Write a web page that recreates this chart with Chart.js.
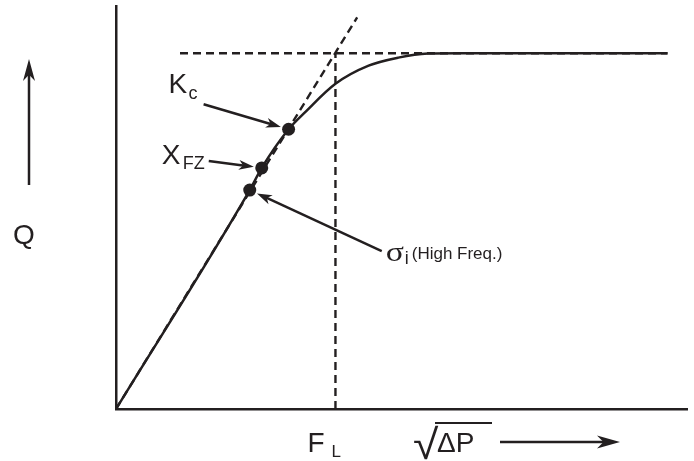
<!DOCTYPE html>
<html>
<head>
<meta charset="utf-8">
<script src="https://cdn.jsdelivr.net/npm/chart.js@4"></script>
<style>
  html, body { margin: 0; padding: 0; background: #ffffff; }
  #wrap { width: 694px; height: 461px; position: relative; }
</style>
</head>
<body>
<div id="wrap"><canvas id="c"></canvas></div>
<script>
// ---- data (arbitrary units) ----
const curveX = [0, 23.4, 25.5, 30.2, 33.2, 38.4, 44.2, 49.4, 54.6, 60.0, 96.5];
const curveY = [0, 54.4, 59.9, 69.5, 73.9, 80.8, 85.3, 87.3, 88.3, 88.4, 88.4];
const tangentX = [0, 42.2];
const tangentY = [0, 97.3];
const plateauX = [11.2, 96.5];
const plateauY = [88.4, 88.4];
const flX = [38.4, 38.4];
const flY = [0, 88.4];
const markerNames = ['σi', 'XFZ', 'Kc'];
const markerX = [23.4, 25.5, 30.2];
const markerY = [54.4, 59.9, 69.5];

const ink = '#231f20';
const xy = (xs, ys) => xs.map((x, i) => ({ x: x, y: ys[i] }));

function arrow(ctx, x1, y1, x2, y2, headLen, headW, lw) {
  const a = Math.atan2(y2 - y1, x2 - x1);
  const c = Math.cos(a), s = Math.sin(a);
  const bx = x2 - headLen * c, by = y2 - headLen * s;
  ctx.save();
  ctx.strokeStyle = ink; ctx.fillStyle = ink; ctx.lineWidth = lw; ctx.lineCap = 'butt';
  ctx.beginPath(); ctx.moveTo(x1, y1); ctx.lineTo(x2 - headLen * 0.6 * c, y2 - headLen * 0.6 * s); ctx.stroke();
  ctx.beginPath();
  ctx.moveTo(x2, y2);
  ctx.lineTo(bx - s * headW / 2, by + c * headW / 2);
  ctx.lineTo(x2 - headLen * 0.72 * c, y2 - headLen * 0.72 * s);
  ctx.lineTo(bx + s * headW / 2, by - c * headW / 2);
  ctx.closePath(); ctx.fill();
  ctx.restore();
}
function pointerTo(ctx, p, dx, dy, gap) {
  const len = Math.hypot(dx, dy);
  const ux = -dx / len, uy = -dy / len;
  arrow(ctx, p.x + dx, p.y + dy, p.x - ux * gap, p.y - uy * gap, 15, 10, 2.5);
}
function txt(ctx, s, x, y, font, align) {
  ctx.font = font; ctx.textAlign = align || 'left'; ctx.textBaseline = 'alphabetic';
  ctx.fillStyle = ink; ctx.fillText(s, x, y);
}

const annotations = {
  id: 'annotations',
  afterDatasetsDraw(chart) {
    const ctx = chart.ctx;
    const pts = chart.getDatasetMeta(4).data;
    const sig = pts[0], xfz = pts[1], kc = pts[2];
    const big = '28px "Liberation Sans", Arial, sans-serif';
    const sub = '18px "Liberation Sans", Arial, sans-serif';
    // Kc
    txt(ctx, 'K', kc.x - 120, kc.y - 36, big);
    txt(ctx, 'c', kc.x - 100, kc.y - 30, sub);
    pointerTo(ctx, kc, -85, -25, 8);
    // XFZ
    txt(ctx, 'X', xfz.x - 100, xfz.y - 4, big);
    txt(ctx, 'FZ', xfz.x - 79, xfz.y + 1, sub);
    pointerTo(ctx, xfz, -53, -7, 8);
    // sigma
    ctx.save();
    ctx.translate(sig.x + 136, sig.y + 71); ctx.scale(1.25, 1);
    txt(ctx, 'σ', 0, 0, '27px "Liberation Serif", serif');
    ctx.restore();
    txt(ctx, 'i', sig.x + 155, sig.y + 74, '18px "Liberation Sans", Arial, sans-serif');
    txt(ctx, '(High Freq.)', sig.x + 162, sig.y + 69, '17px "Liberation Sans", Arial, sans-serif');
    pointerTo(ctx, sig, 132, 61, 8);

    // axis labels
    txt(ctx, 'Q', 24, 244, big, 'center');
    arrow(ctx, 29, 185, 29, 59, 22, 12, 2.5);
    const fx = chart.scales.x.getPixelForValue(flX[0]);
    txt(ctx, 'F', fx - 28, 452, big);
    txt(ctx, 'L', fx - 4, 457, '17px "Liberation Sans", Arial, sans-serif');
    ctx.save();
    ctx.translate(413, 459); ctx.scale(1.1, 1);
    txt(ctx, '√', 0, 0, '42px "Liberation Sans", Arial, sans-serif');
    ctx.restore();
    txt(ctx, 'ΔP', 437, 452, big);
    ctx.save(); ctx.strokeStyle = ink; ctx.lineWidth = 2;
    ctx.beginPath(); ctx.moveTo(435, 423); ctx.lineTo(492, 423); ctx.stroke(); ctx.restore();
    arrow(ctx, 500, 442, 620, 442, 23, 13, 2.5);
  }
};

const dashed = { borderColor: ink, borderWidth: 2.4, borderDash: [8, 5], pointRadius: 0, fill: false, tension: 0 };

new Chart(document.getElementById('c'), {
  type: 'line',
  data: {
    datasets: [
      Object.assign({ label: 'tangent', data: xy(tangentX, tangentY) }, dashed),
      Object.assign({ label: 'plateau', data: xy(plateauX, plateauY) }, dashed),
      Object.assign({ label: 'FL', data: xy(flX, flY) }, dashed),
      { label: 'Q', data: xy(curveX, curveY), borderColor: ink, borderWidth: 2.5, pointRadius: 0,
        cubicInterpolationMode: 'monotone', fill: false },
      { label: 'markers', data: xy(markerX, markerY), showLine: false, pointRadius: 6.5,
        pointBackgroundColor: ink, pointBorderWidth: 0, borderColor: ink }
    ]
  },
  options: {
    responsive: true, maintainAspectRatio: false, animation: false,
    layout: { padding: { left: 116, right: 4, top: 4, bottom: 52 } },
    plugins: { legend: { display: false }, tooltip: { enabled: false } },
    scales: {
      x: { type: 'linear', min: 0, max: 100,
        grid: { display: false, drawTicks: false }, ticks: { display: false },
        border: { display: true, color: ink, width: 2.5 } },
      y: { type: 'linear', min: 0, max: 100,
        grid: { display: false, drawTicks: false }, ticks: { display: false },
        border: { display: true, color: ink, width: 2.5 } }
    }
  },
  plugins: [annotations]
});
</script>
</body>
</html>
